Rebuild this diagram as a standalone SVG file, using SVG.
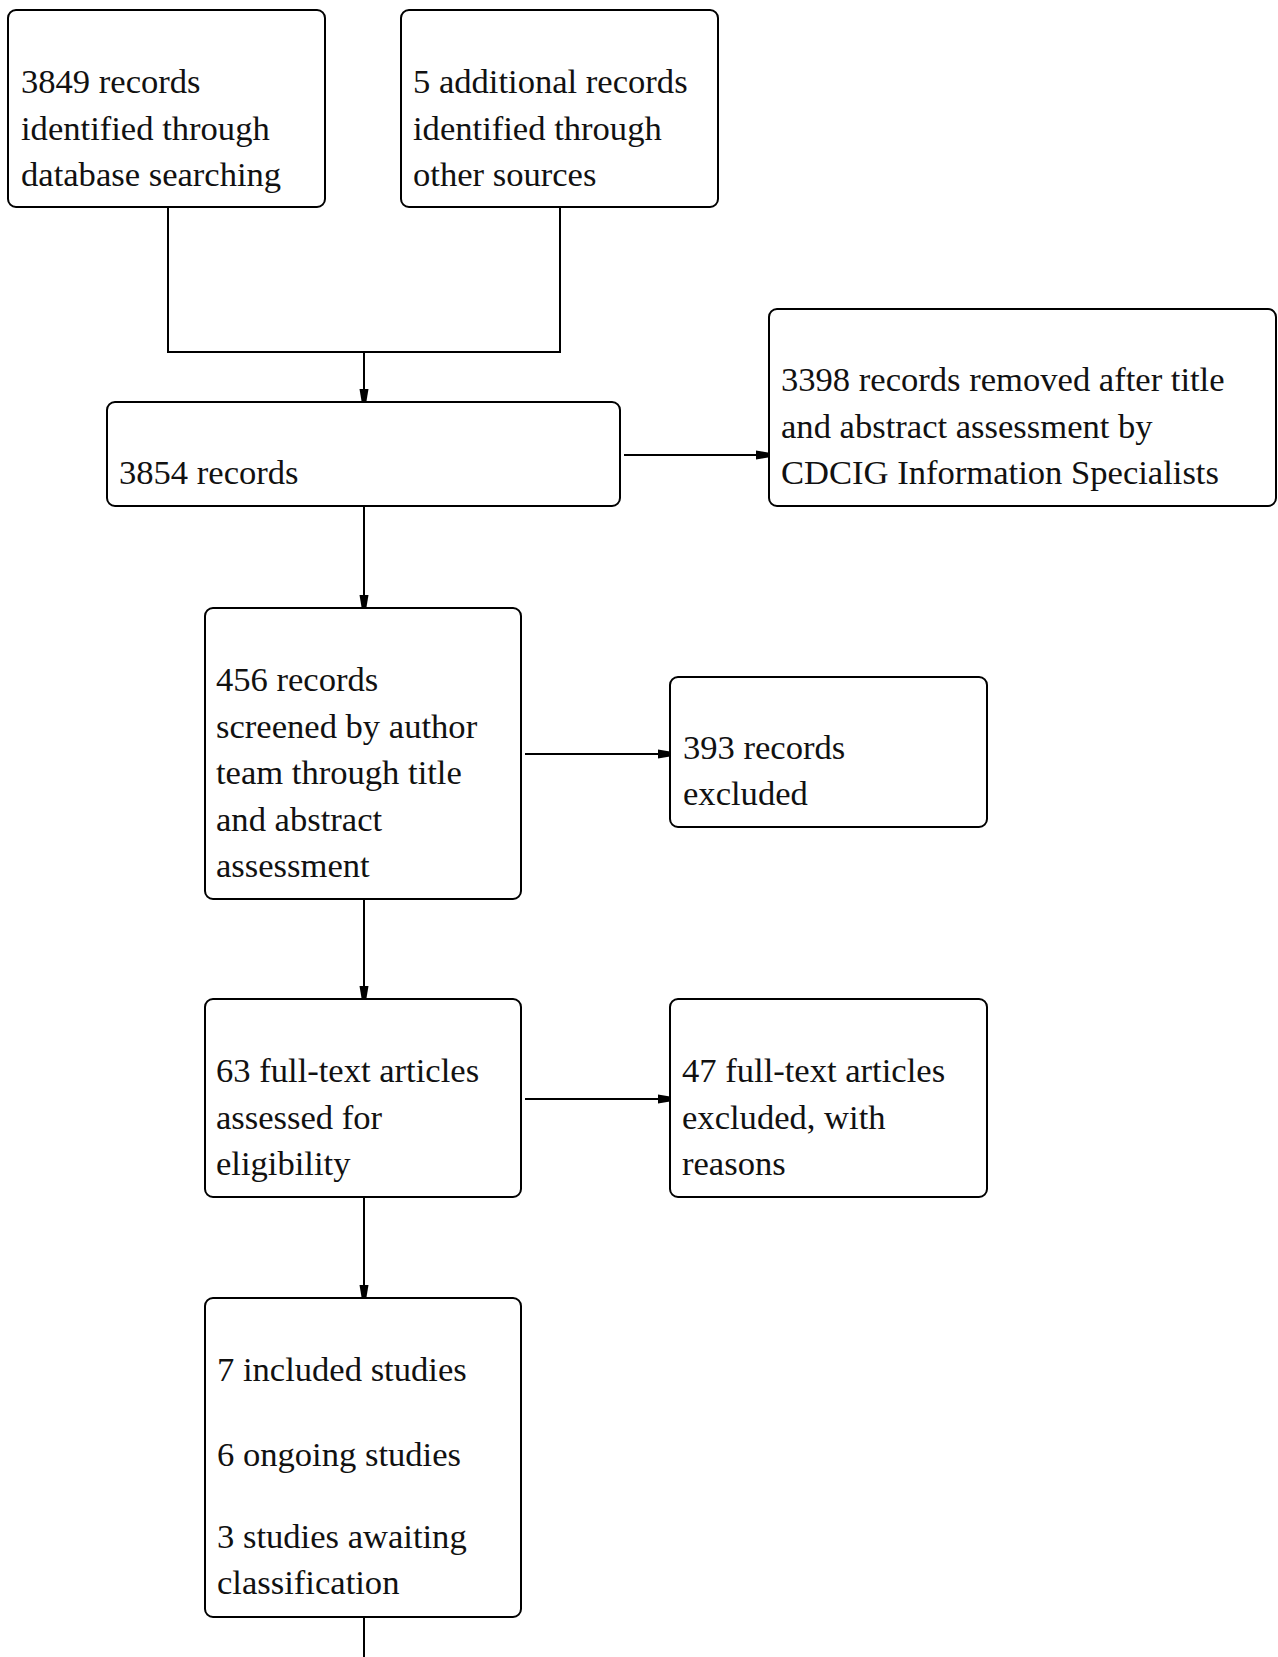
<svg xmlns="http://www.w3.org/2000/svg" width="1278" height="1657" viewBox="0 0 1278 1657">
<style>
.box{fill:#fff;stroke:#000;stroke-width:2}
.t{font-family:"Liberation Serif","Times New Roman",serif;font-size:34.6px;fill:#111}
.c{fill:none;stroke:#000;stroke-width:2}
</style>
<defs>
<marker id="ah" viewBox="0 0 12 12" refX="12" refY="6" markerWidth="12" markerHeight="12" markerUnits="userSpaceOnUse" orient="auto">
<path d="M0,1.5 L6,2.5 L12,3.5 L12,8.5 L6,9.5 L0,10.5 Z" fill="#000"/>
</marker>
</defs>
<rect width="1278" height="1657" fill="#fff"/>
<g id="connectors">
<polyline class="c" points="168,207 168,352 560,352 560,207"/>
<line class="c" x1="364" y1="352" x2="364" y2="401" marker-end="url(#ah)"/>
<line class="c" x1="624" y1="455" x2="768" y2="455" marker-end="url(#ah)"/>
<line class="c" x1="364" y1="506" x2="364" y2="607" marker-end="url(#ah)"/>
<line class="c" x1="525" y1="754" x2="670" y2="754" marker-end="url(#ah)"/>
<line class="c" x1="364" y1="899" x2="364" y2="998" marker-end="url(#ah)"/>
<line class="c" x1="525" y1="1099" x2="670" y2="1099" marker-end="url(#ah)"/>
<line class="c" x1="364" y1="1197" x2="364" y2="1297" marker-end="url(#ah)"/>
<line class="c" x1="364" y1="1617" x2="364" y2="1657"/>
</g>
<g id="n1"><rect class="box" x="8" y="10" width="317" height="197" rx="8"/>
<text class="t" x="21" y="93">3849 records</text><text class="t" x="21" y="139.5">identified through</text><text class="t" x="21" y="186">database searching</text></g>
<g id="n2"><rect class="box" x="401" y="10" width="317" height="197" rx="8"/>
<text class="t" x="413" y="93">5 additional records</text><text class="t" x="413" y="139.5">identified through</text><text class="t" x="413" y="186">other sources</text></g>
<g id="n3"><rect class="box" x="107" y="402" width="513" height="104" rx="8"/>
<text class="t" x="119" y="484">3854 records</text></g>
<g id="n4"><rect class="box" x="769" y="309" width="507" height="197" rx="8"/>
<text class="t" x="781" y="391">3398 records removed after title</text><text class="t" x="781" y="438">and abstract assessment by</text><text class="t" x="781" y="484">CDCIG Information Specialists</text></g>
<g id="n5"><rect class="box" x="205" y="608" width="316" height="291" rx="8"/>
<text class="t" x="216" y="691">456 records</text><text class="t" x="216" y="738">screened by author</text><text class="t" x="216" y="784">team through title</text><text class="t" x="216" y="831">and abstract</text><text class="t" x="216" y="877">assessment</text></g>
<g id="n6"><rect class="box" x="670" y="677" width="317" height="150" rx="8"/>
<text class="t" x="683" y="759">393 records</text><text class="t" x="683" y="805">excluded</text></g>
<g id="n7"><rect class="box" x="205" y="999" width="316" height="198" rx="8"/>
<text class="t" x="216" y="1082">63 full-text articles</text><text class="t" x="216" y="1129">assessed for</text><text class="t" x="216" y="1175">eligibility</text></g>
<g id="n8"><rect class="box" x="670" y="999" width="317" height="198" rx="8"/>
<text class="t" x="682" y="1082">47 full-text articles</text><text class="t" x="682" y="1129">excluded, with</text><text class="t" x="682" y="1175">reasons</text></g>
<g id="n9"><rect class="box" x="205" y="1298" width="316" height="319" rx="8"/>
<text class="t" x="217" y="1381">7 included studies</text><text class="t" x="217" y="1466">6 ongoing studies</text><text class="t" x="217" y="1548">3 studies awaiting</text><text class="t" x="217" y="1594">classification</text></g>
</svg>
